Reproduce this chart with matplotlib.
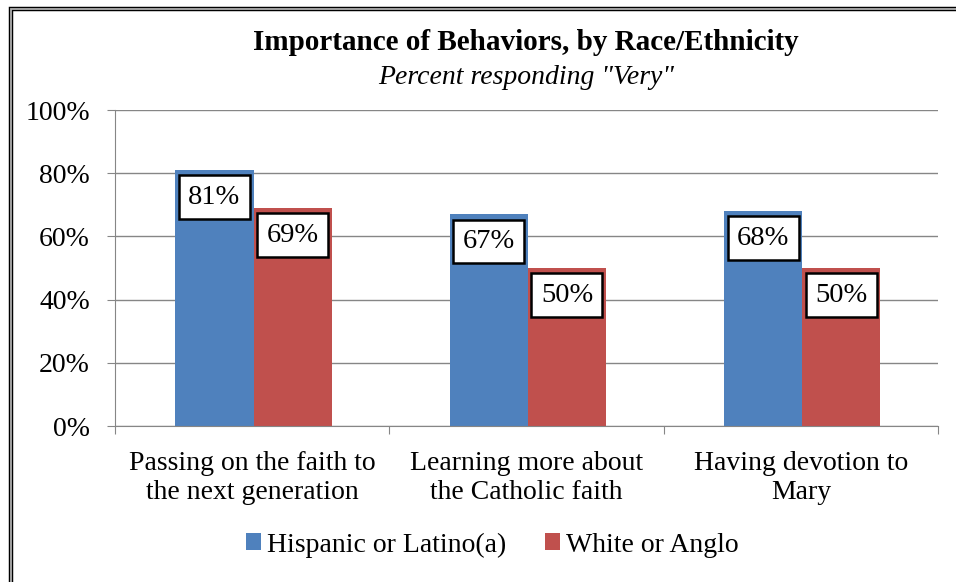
import numpy as np
import matplotlib.pyplot as plt
from matplotlib.patches import Rectangle

categories = ["Passing on the faith to\nthe next generation",
              "Learning more about\nthe Catholic faith",
              "Having devotion to\nMary"]
hispanic = [81, 67, 68]
white = [69, 50, 50]
series_names = ["Hispanic or Latino(a)", "White or Anglo"]
yticks = [0, 20, 40, 60, 80, 100]

plt.rcParams['font.family'] = ['Liberation Serif', 'DejaVu Serif']
blue = '#4F81BD'
red = '#C0504D'
grey = '#868686'
fs = 20

fig = plt.figure(figsize=(9.56, 5.82), dpi=100)
ax = fig.add_axes([115/956, 1 - 426/582, (938-115)/956, (426-110)/582])

x = np.arange(len(categories))
w = 0.285
b1 = ax.bar(x - w/2 + 0.005, hispanic, w, color=blue, label=series_names[0], zorder=2)
b2 = ax.bar(x + w/2 + 0.005, white, w, color=red, label=series_names[1], zorder=2)

for bars, vals in ((b1, hispanic), (b2, white)):
    for bar, v in zip(bars, vals):
        ax.text(bar.get_x() + bar.get_width()/2, v - 8.6, f"{v}%",
                ha='center', va='center', fontsize=20.5, zorder=3,
                bbox=dict(boxstyle='square,pad=0.33', fc='white', ec='black', lw=1.8))

ax.set_xlim(-0.5, len(categories) - 0.5)
ax.set_ylim(0, 100)
ax.set_yticks(yticks)
ax.set_yticklabels([f"{t}%" for t in yticks], fontsize=fs)
ax.yaxis.grid(True, color=grey, lw=1, zorder=0)
ax.set_xticks(np.arange(len(categories) + 1) - 0.5, minor=False)
ax.set_xticklabels([])
ax.set_xticks(x, minor=True)
ax.set_xticklabels(categories, minor=True, fontsize=fs, linespacing=1.2)
ax.tick_params(axis='x', which='minor', length=0, pad=18)
ax.tick_params(axis='x', which='major', length=6, color=grey, direction='out')
ax.tick_params(axis='y', length=6, color=grey, pad=12)
for s in ['top', 'right']:
    ax.spines[s].set_visible(False)
for s in ['left', 'bottom']:
    ax.spines[s].set_color(grey)

fig.text(526/956, 1 - 43/582, "Importance of Behaviors, by Race/Ethnicity",
         ha='center', va='center', fontsize=21, fontweight='bold')
fig.text(526/956, 1 - 78/582, 'Percent responding "Very"',
         ha='center', va='center', fontsize=20, style='italic')

fig.legend(handles=[b1, b2], loc='center', bbox_to_anchor=(492/956, 1 - 545/582),
           ncol=2, frameon=False, fontsize=fs, handlelength=0.55, handleheight=0.55,
           handletextpad=0.2, columnspacing=1.4)

# frame around the chart: grey line with black edges
for lw, col in ((3.2, 'black'), (1.3, '#B0B0B0')):
    fig.patches.append(Rectangle((10.5/956, -0.1), 1.2, 1.1 - 9/582,
                                 transform=fig.transFigure, fill=False, ec=col, lw=lw))

fig.savefig('out.png', dpi=100)
